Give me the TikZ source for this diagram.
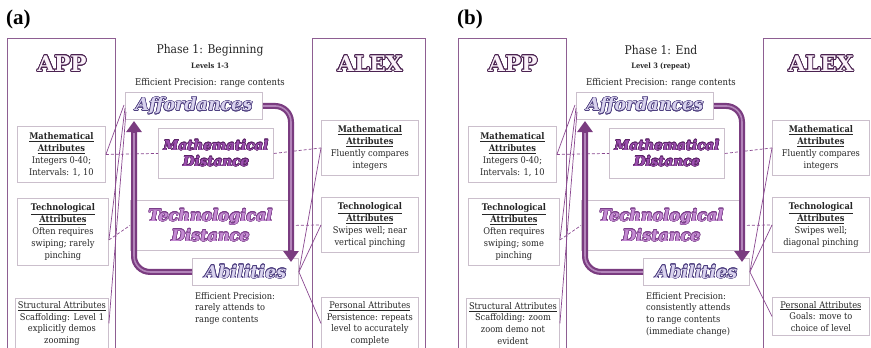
\documentclass[tikz,border=0pt]{standalone}
\usepackage{fontspec}
\setmainfont{DejaVu Serif Condensed}
\newfontfamily\decofont{DejaVu Serif}
\newfontfamily\labelfont{Liberation Serif}
\usepackage{contour}
\usetikzlibrary{arrows.meta,calc}

\definecolor{framec}{HTML}{8E5E92}
\definecolor{boxc}{HTML}{CBBFCC}
\definecolor{arrowc}{HTML}{7A3C80}
\definecolor{arrowhi}{HTML}{B385BA}
\definecolor{linkc}{HTML}{8A4790}
\definecolor{inkc}{HTML}{262626}
\definecolor{affill}{HTML}{D9D3EE}
\definecolor{afline}{HTML}{4E3F80}
\definecolor{mdfill}{HTML}{9B4FAE}
\definecolor{mdline}{HTML}{5C2468}
\definecolor{tdfill}{HTML}{C48BD2}
\definecolor{tdline}{HTML}{7B3E8A}
\definecolor{appfill}{HTML}{FBF3FA}
\definecolor{appline}{HTML}{4A2250}

% outlined lettering: fill colour, outline colour, outline width, text
\newcommand{\outlined}[4]{{\contourlength{#3}\textcolor{#1}{\contour{#2}{#4}}}}
\newcommand{\attrsize}{\fontsize{9.2}{11.8}\selectfont}
\newcommand{\decosize}[1]{\decofont\bfseries\itshape\fontsize{#1}{#1}\selectfont}

\tikzset{
  frame/.style={draw=framec, line width=1.4pt, anchor=north west, inner sep=0pt},
  attrbox/.style={draw=boxc, line width=0.9pt, align=center, inner sep=1pt,
                  font=\attrsize, text=inkc, anchor=north west},
  headbox/.style={draw=boxc, line width=0.9pt, anchor=north west, inner sep=0pt, align=center},
  link/.style={draw=linkc, line width=0.7pt},
  dlink/.style={link, dash pattern=on 3pt off 2pt},
  bigarrow/.style={draw=arrowc, line width=6pt, rounded corners=16pt,
                   -{Triangle[length=11pt,width=15pt]}},
  bighi/.style={draw=arrowhi, line width=1.6pt, rounded corners=16pt},
}

% one phase panel:
% #1 letter, #2 phase title, #3 level line, #4 APP technological text,
% #5 APP structural text, #6 ALEX technological text, #7 ALEX personal text,
% #8 abilities description, #9 height of the personal box
\newcommand{\phasepanel}[9]{%
  \node[font=\labelfont\bfseries\fontsize{21}{21}\selectfont, anchor=west, inner sep=0pt]
    (lbl) at (6,19) {(#1)};
  % the two columns
  \node[frame, minimum width=108pt, minimum height=320pt] (app) at (7,38) {};
  \node[frame, minimum width=113pt, minimum height=320pt] (alex) at (312,38) {};
  \node[inner sep=0pt] (appT) at (62,64)
    {\decofont\bfseries\fontsize{21.5}{22}\selectfont\outlined{appfill}{appline}{0.9pt}{APP}};
  \node[inner sep=0pt] (alexT) at (370,64)
    {\decofont\bfseries\fontsize{21.5}{22}\selectfont\outlined{appfill}{appline}{0.9pt}{ALEX}};
  % APP attributes
  \node[attrbox, minimum width=88pt, minimum height=56pt] (mA) at (17,126)
    {\textbf{\underline{Mathematical}}\\\textbf{\underline{Attributes}}\\Integers 0-40;\\Intervals: 1, 10};
  \node[attrbox, minimum width=91pt, minimum height=67pt] (tA) at (17,198)
    {\textbf{\underline{Technological}}\\\textbf{\underline{Attributes}}\\#4};
  \node[attrbox, minimum width=93pt, minimum height=50pt] (sA) at (15,298)
    {\underline{Structural Attributes}\\#5};
  % ALEX attributes
  \node[attrbox, minimum width=97pt, minimum height=55pt] (amA) at (321,120)
    {\textbf{\underline{Mathematical}}\\\textbf{\underline{Attributes}}\\Fluently compares\\integers};
  \node[attrbox, minimum width=97pt, minimum height=55pt] (atA) at (321,197)
    {\textbf{\underline{Technological}}\\\textbf{\underline{Attributes}}\\#6};
  \node[attrbox, minimum width=97pt, minimum height=#9] (pA) at (321,297)
    {\underline{Personal Attributes}\\#7};
  % phase headings
  \node[font=\fontsize{12}{12}\selectfont, text=inkc] (ph) at (210,50) {#2};
  \node[font=\bfseries\fontsize{7.4}{8}\selectfont, text=inkc] (lv) at (210,66) {#3};
  \node[font=\fontsize{9.4}{10}\selectfont, text=inkc] (ep) at (210,83) {Efficient Precision: range contents};
  % central boxes
  \node[headbox, minimum width=137pt, minimum height=27pt] (aff) at (125,92)
    {\decosize{17.5}\outlined{affill}{afline}{0.6pt}{Affordances}};
  \node[headbox, minimum width=115pt, minimum height=50pt] (mD) at (158,128)
    {\decosize{13.5}\outlined{mdfill}{mdline}{0.45pt}{Mathematical}\\[4pt]
     \decosize{13.5}\outlined{mdfill}{mdline}{0.45pt}{Distance}};
  \node[headbox, minimum width=160pt, minimum height=50pt] (tD) at (130,200)
    {\decosize{16}\outlined{tdfill}{tdline}{0.5pt}{Technological}\\[3pt]
     \decosize{16}\outlined{tdfill}{tdline}{0.5pt}{Distance}};
  \node[headbox, minimum width=106pt, minimum height=27pt] (ab) at (192,258)
    {\decosize{17.5}\outlined{affill}{afline}{0.6pt}{Abilities}};
  \node[anchor=north west, align=left, inner sep=0pt, font=\attrsize, text=inkc] (abT) at (195,292) {#8};
  % links from APP attributes to the affordances
  \draw[link] ($(aff.west)+(-1,-1)$) -- (mA.east);
  \draw[link] ($(aff.west)+(0,2)$) -- ($(tA.east)+(0,8)$);
  \draw[link] ($(aff.west)+(1,6)$) -- (sA.east);
  % distances
  \draw[dlink] (mA.east) -- (mD.west);
  \draw[dlink] (mD.east) -- (amA.west);
  \draw[dlink] ($(tA.east)+(0,8)$) -- (tD.west);
  \draw[dlink] (tD.east) -- (atA.west);
  % links from ALEX attributes to the abilities
  \draw[link] (ab.east) -- (amA.west);
  \draw[link] (ab.east) -- (atA.west);
  \draw[link] (ab.east) -- (pA.west);
  % the cycle arrows
  \draw[bigarrow] (aff.east) -| (291,262);
  \draw[bighi, shorten >=12pt] (aff.east) -| (291,262);
  \draw[bigarrow] (ab.west) -| (134,121);
  \draw[bighi, shorten >=12pt] (ab.west) -| (134,121);
}

\begin{document}
\begin{tikzpicture}[x=1pt,y=-1pt]
  \useasboundingbox (0,0) rectangle (871,348);
  \clip (0,0) rectangle (871,348);
  \fill[white] (0,0) rectangle (871,348);
  \begin{scope}[name prefix=pa-]
    \phasepanel{a}{Phase 1: Beginning}{Levels 1-3}
      {Often requires\\swiping; rarely\\pinching}
      {Scaffolding: Level 1\\explicitly demos\\zooming}
      {Swipes well; near\\vertical pinching}
      {Persistence: repeats\\level to accurately\\complete}
      {Efficient Precision:\\rarely attends to\\range contents}
      {52pt}
  \end{scope}
  \begin{scope}[xshift=451pt, name prefix=pb-]
    \phasepanel{b}{Phase 1: End}{Level 3 (repeat)}
      {Often requires\\swiping; some\\pinching}
      {Scaffolding: zoom\\zoom demo not\\evident}
      {Swipes well;\\diagonal pinching}
      {Goals: move to\\choice of level}
      {Efficient Precision:\\consistently attends\\to range contents\\(immediate change)}
      {38pt}
  \end{scope}
\end{tikzpicture}
\end{document}
